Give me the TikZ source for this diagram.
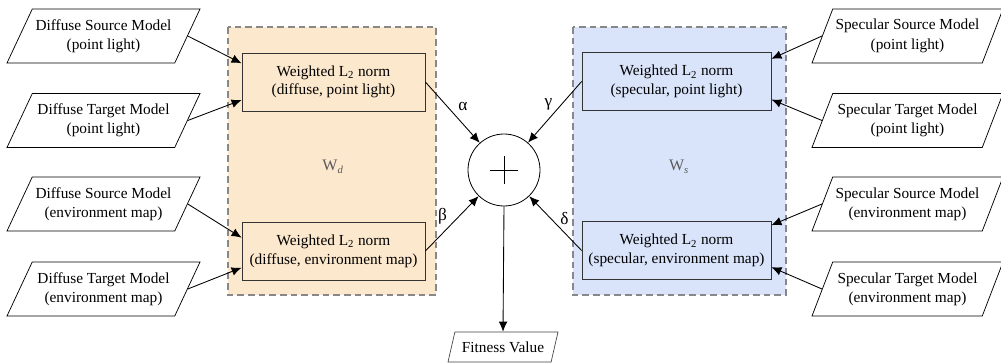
\documentclass[tikz,border=0pt]{standalone}
\usepackage{fontspec}
\setmainfont{Liberation Serif}
\usetikzlibrary{shapes.geometric,arrows.meta}
\definecolor{dfill}{HTML}{FCE8CD}
\definecolor{sfill}{HTML}{D9E4FB}
\definecolor{contline}{HTML}{888888}
\definecolor{wlab}{HTML}{5A5A5A}
\begin{document}
\begin{tikzpicture}[x=0.75pt,y=-0.75pt,
  every node/.style={font=\rmfamily\fontsize{11.5}{14.5}\selectfont},
  lpara/.style={draw, line width=0.55pt, trapezium, trapezium stretches body,
    trapezium left angle=55, trapezium right angle=125,
    minimum width=144.75pt, minimum height=40.5pt, align=center, inner sep=1pt},
  rpara/.style={draw, line width=0.55pt, trapezium, trapezium stretches body,
    trapezium left angle=60, trapezium right angle=120,
    minimum width=143.25pt, minimum height=40.5pt, align=center, inner sep=1pt},
  fpara/.style={draw=black!75, line width=0.5pt, trapezium, trapezium stretches body,
    trapezium left angle=63, trapezium right angle=117,
    minimum width=82.5pt, minimum height=22.5pt, inner sep=1pt},
  cont/.style={draw=contline, line width=1pt, dash pattern=on 5pt off 3pt},
  normbox/.style={draw=black!80, line width=0.6pt, align=center,
    minimum height=43.5pt, inner sep=2pt, font=\rmfamily\fontsize{11.5}{14}\selectfont},
  wlabel/.style={text=wlab, font=\rmfamily\fontsize{12}{14}\selectfont},
  arr/.style={line width=0.65pt, -{Latex[length=7.5pt,width=6.5pt]}},
  glabel/.style={inner sep=1pt, font=\rmfamily\fontsize{13}{14}\selectfont}
]
\useasboundingbox (0,0) rectangle (1001,363);

% containers
\draw[cont, fill=dfill] (228,27) rectangle (436,295);
\draw[cont, fill=sfill] (573,27) rectangle (786,295);
\node[wlabel] (wd) at (333,167) {W\textsubscript{\itshape d}};
\node[wlabel] (ws) at (679,167) {W\textsubscript{\itshape s}};

% norm boxes
\node[normbox, fill=dfill, minimum width=137.25pt] (dpl) at (333.5,82)
  {Weighted L\textsubscript{2} norm\\(diffuse, point light)};
\node[normbox, fill=dfill, minimum width=137.25pt] (denv) at (333.5,251)
  {Weighted L\textsubscript{2} norm\\(diffuse, environment map)};
\node[normbox, fill=sfill, minimum width=141.75pt] (spl) at (676.5,81.5)
  {Weighted L\textsubscript{2} norm\\(specular, point light)};
\node[normbox, fill=sfill, minimum width=141.75pt] (senv) at (676.5,250.5)
  {Weighted L\textsubscript{2} norm\\(specular, environment map)};

% input models
\node[lpara] (ds1) at (103.5,36) {Diffuse Source Model\\(point light)};
\node[lpara] (dt1) at (103.5,120.5) {Diffuse Target Model\\(point light)};
\node[lpara] (ds2) at (103.5,204) {Diffuse Source Model\\(environment map)};
\node[lpara] (dt2) at (103.5,289) {Diffuse Target Model\\(environment map)};
\node[rpara] (ss1) at (907.5,36) {Specular Source Model\\(point light)};
\node[rpara] (st1) at (907.5,120.5) {Specular Target Model\\(point light)};
\node[rpara] (ss2) at (907.5,204) {Specular Source Model\\(environment map)};
\node[rpara] (st2) at (907.5,289) {Specular Target Model\\(environment map)};

% sum
\node[draw, circle, line width=0.6pt, minimum size=54pt, inner sep=0pt] (sum) at (504,170) {};
\draw[line width=0.6pt] ([xshift=-10.5pt]sum.center) -- ([xshift=10.5pt]sum.center)
  ([yshift=-10.5pt]sum.center) -- ([yshift=10.5pt]sum.center);

% fitness
\node[fpara] (fit) at (503,347) {Fitness Value};

% connectors
\draw[arr] (ds1.east) -- ([yshift=14pt]dpl.west);
\draw[arr] (dt1.east) -- ([yshift=-13.5pt]dpl.west);
\draw[arr] (ds2.east) -- ([yshift=10pt]denv.west);
\draw[arr] (dt2.east) -- ([yshift=-12.5pt]denv.west);
\draw[arr] (ss1.west) -- ([yshift=17pt]spl.east);
\draw[arr] (st1.west) -- ([yshift=-13.5pt]spl.east);
\draw[arr] (ss2.west) -- ([yshift=19pt]senv.east);
\draw[arr] (st2.west) -- ([yshift=-12.5pt]senv.east);

\draw[arr] (dpl.east) -- node[glabel, pos=0.5, anchor=south west, xshift=3pt] {α} (sum);
\draw[arr] (spl.west) -- node[glabel, pos=0.5, anchor=south east, xshift=-0.5pt] {γ} (sum);
\draw[arr] (denv.east) -- node[glabel, pos=0.45, anchor=south east, xshift=-0.5pt] {β} (sum);
\draw[arr] (senv.west) -- node[glabel, pos=0.45, anchor=south west, xshift=0.5pt] {δ} (sum);
\draw[arr] (sum.south) -- (fit.north);
\end{tikzpicture}
\end{document}
